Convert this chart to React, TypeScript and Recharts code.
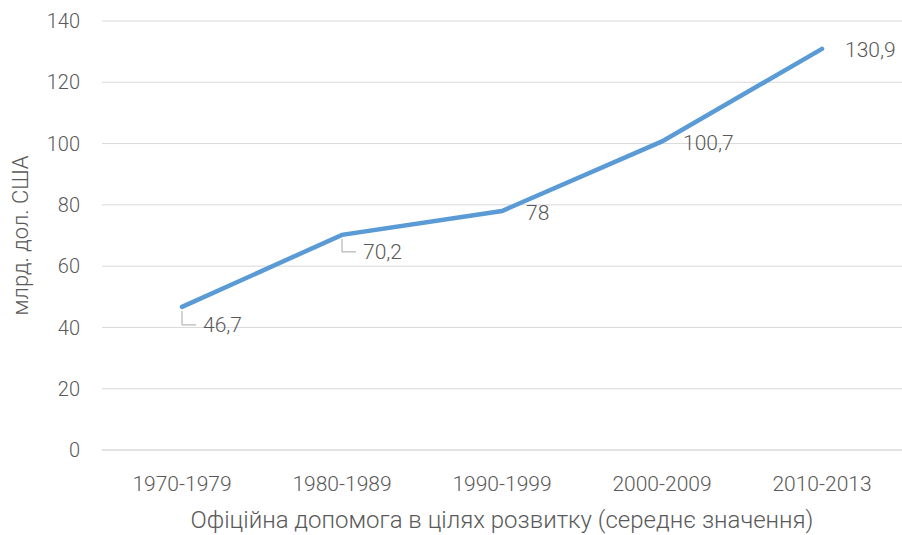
import { LineChart, Line, XAxis, YAxis, CartesianGrid, LabelList } from "recharts";

const periods = ["1970-1979", "1980-1989", "1990-1999", "2000-2009", "2010-2013"];
const aidValues = [46.7, 70.2, 78, 100.7, 130.9];
const aidLabels = ["46,7", "70,2", "78", "100,7", "130,9"];
const yTicks = [0, 20, 40, 60, 80, 100, 120, 140];

const data = periods.map((p, i) => ({ period: p, value: aidValues[i], label: aidLabels[i] }));

const FONT = "Roboto, 'Noto Sans', sans-serif";
const TEXT = "#595959";

// label placement relative to the point, leader line for the first two
const labelOffsets = [
  { dx: 21, dy: 18, leader: true },
  { dx: 21, dy: 17, leader: true },
  { dx: 24, dy: 2, leader: false },
  { dx: 21, dy: 2, leader: false },
  { dx: 23, dy: 1, leader: false },
];

function PointLabel(props: any) {
  const { x, y, index } = props;
  const o = labelOffsets[index];
  const tx = x + o.dx;
  const ty = y + o.dy;
  return (
    <g>
      {o.leader && (
        <polyline
          points={`${x},${y + 4} ${x},${ty} ${tx - 7},${ty}`}
          fill="none"
          stroke="#a6a6a6"
          strokeWidth={1}
        />
      )}
      <text
        x={tx}
        y={ty}
        dominantBaseline="central"
        fill={TEXT}
        fontSize={21}
        fontFamily={FONT}
        fontWeight={300}
      >
        {aidLabels[index]}
      </text>
    </g>
  );
}

export default function App() {
  return (
    <div style={{ position: "absolute", left: 0, top: 0, background: "#fff" }}>
      <LineChart width={902} height={535} data={data} margin={{ top: 21, right: 0, left: 0, bottom: 0 }}>
        <CartesianGrid vertical={false} stroke="#d9d9d9" />
        <XAxis
          dataKey="period"
          height={85}
          padding={{ left: 80, right: 80 }}
          axisLine={{ stroke: "#d9d9d9" }}
          tickLine={false}
          tickMargin={20}
          tick={{ fill: TEXT, fontSize: 21, fontFamily: FONT, fontWeight: 300 }}
          label={{
            value: "Офіційна допомога в цілях розвитку (середнє значення)",
            position: "insideBottom",
            offset: 7,
            fill: TEXT,
            fontSize: 24,
            fontFamily: FONT,
            fontWeight: 300,
          }}
        />
        <YAxis
          width={102}
          domain={[0, 140]}
          ticks={yTicks}
          axisLine={false}
          tickLine={false}
          tickMargin={16}
          tick={{ fill: TEXT, fontSize: 20, fontFamily: FONT, fontWeight: 300 }}
          label={{
            value: "млрд. дол. США",
            angle: -90,
            position: "insideLeft",
            offset: 20,
            style: { textAnchor: "middle" },
            fill: TEXT,
            fontSize: 22,
            fontFamily: FONT,
            fontWeight: 300,
          }}
        />
        <Line
          type="linear"
          dataKey="value"
          stroke="#5b9bd5"
          strokeWidth={4.5}
          strokeLinecap="round"
          dot={false}
          isAnimationActive={false}
        >
          <LabelList dataKey="label" content={PointLabel} />
        </Line>
      </LineChart>
    </div>
  );
}
